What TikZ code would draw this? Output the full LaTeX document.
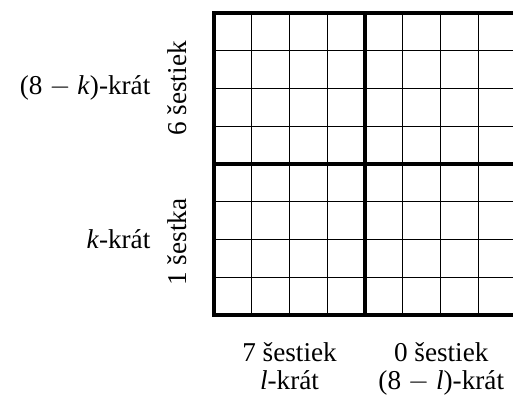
\documentclass[tikz,border=0pt]{standalone}
\usepackage{fontspec}
\setmainfont{Liberation Serif}
\usetikzlibrary{positioning}

\begin{document}
\begin{tikzpicture}[x=1cm, y=1cm,
        lbl/.style={font=\fontsize{20.5}{20.7}\selectfont, inner sep=0pt},
        thick line/.style={line width=2.4pt}]
            \useasboundingbox (-5.67,-2.28) rectangle (7.92,8.345);
            \clip (-5.67,-2.28) rectangle (7.92,8.345);

            \draw[line width=0.75pt] (0,0) grid (8,8);
            \draw[thick line] (8,8) -- (0,8) -- (0,0) -- (8,0);
            \draw[thick line] (4,0) -- (4,8);
            \draw[thick line] (0,4) -- (8,4);

            \node[lbl, anchor=base east] (top rows) at (-1.68, 5.83) {(8 $-$ \textit{k})-krát};
            \node[lbl, anchor=base east] (bottom rows) at (-1.68, 1.77) {\textit{k}-krát};
            \node[lbl, rotate=90, anchor=base] (six) at (-0.74, 6) {6 šestiek};
            \node[lbl, rotate=90, anchor=base] (one) at (-0.74, 1.93) {1 šestka};

            \node[lbl, align=center, anchor=base] (left cols) at (2, -1.97) {7 šestiek\\\textit{l}-krát};
            \node[lbl, align=center, anchor=base] (right cols) at (6.02, -1.97) {0 šestiek\\(8 $-$ \textit{l})-krát};
        \end{tikzpicture}
\end{document}
